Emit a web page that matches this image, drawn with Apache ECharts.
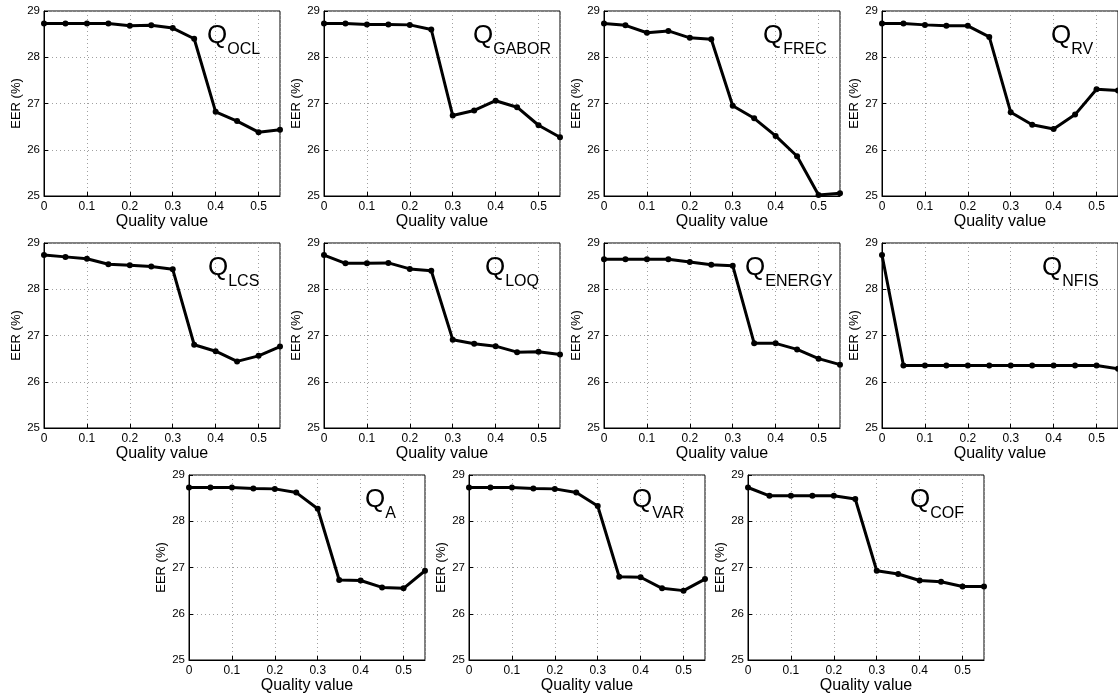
<!DOCTYPE html>
<html>
<head>
<meta charset="utf-8">
<script src="https://cdn.jsdelivr.net/npm/echarts@6/dist/echarts.min.js"></script>
<style>
html,body{margin:0;padding:0;background:#fff;}
#chart{width:1118px;height:697px;}
</style>
</head>
<body>
<div id="chart"></div>
<script>
// Quality values (x)
const qualityValues = [0, 0.05, 0.1, 0.15, 0.2, 0.25, 0.3, 0.35, 0.4, 0.45, 0.5, 0.55];
const xTickLabels = ['0', '0.1', '0.2', '0.3', '0.4', '0.5'];
const yTickLabels = ['25', '26', '27', '28', '29'];

// EER (%) per quality measure
const eerOCL    = [28.73, 28.73, 28.73, 28.73, 28.68, 28.69, 28.63, 28.40, 26.82, 26.62, 26.38, 26.43];
const eerGABOR  = [28.73, 28.73, 28.71, 28.71, 28.70, 28.60, 26.74, 26.85, 27.06, 26.92, 26.53, 26.27];
const eerFREC   = [28.73, 28.69, 28.53, 28.57, 28.42, 28.39, 26.95, 26.68, 26.30, 25.86, 25.02, 25.06];
const eerRV     = [28.73, 28.73, 28.70, 28.68, 28.68, 28.44, 26.81, 26.54, 26.45, 26.76, 27.31, 27.28];
const eerLCS    = [28.74, 28.70, 28.66, 28.54, 28.52, 28.49, 28.43, 26.80, 26.66, 26.44, 26.56, 26.76];
const eerLOQ    = [28.74, 28.56, 28.56, 28.57, 28.44, 28.40, 26.91, 26.82, 26.77, 26.64, 26.65, 26.59];
const eerENERGY = [28.65, 28.65, 28.65, 28.65, 28.59, 28.53, 28.51, 26.83, 26.83, 26.70, 26.50, 26.37];
const eerNFIS   = [28.74, 26.35, 26.35, 26.35, 26.35, 26.35, 26.35, 26.35, 26.35, 26.35, 26.35, 26.28];
const eerA      = [28.73, 28.73, 28.73, 28.71, 28.70, 28.62, 28.27, 26.73, 26.72, 26.57, 26.55, 26.93];
const eerVAR    = [28.73, 28.73, 28.73, 28.71, 28.70, 28.62, 28.33, 26.80, 26.79, 26.55, 26.50, 26.75];
const eerCOF    = [28.73, 28.55, 28.55, 28.55, 28.55, 28.48, 26.93, 26.86, 26.72, 26.69, 26.59, 26.59];

const measureNames = ['OCL', 'GABOR', 'FREC', 'RV', 'LCS', 'LOQ', 'ENERGY', 'NFIS', 'A', 'VAR', 'COF'];
const measureData = [eerOCL, eerGABOR, eerFREC, eerRV, eerLCS, eerLOQ, eerENERGY, eerNFIS, eerA, eerVAR, eerCOF];

// Layout (pixels): plot-area boxes and label offsets
const plotBoxes = [
  [44, 11], [324, 11], [604, 11], [882, 11],
  [44, 243], [324, 243], [604, 243], [882, 243],
  [189, 475], [469, 475], [748, 475]
];
const plotW = 236, plotH = 185;
const titleOffsetX = [163, 149, 159, 169, 164, 161, 141, 160, 176, 163, 162];
const titleOffsetY = 12;

const FONT = '"Liberation Sans", Arial, Helvetica, sans-serif';

const grids = [], xAxes = [], yAxes = [], series = [], titles = [];
plotBoxes.forEach((b, i) => {
  grids.push({
    left: b[0], top: b[1], width: plotW, height: plotH,
    show: true, borderColor: '#000', borderWidth: 1, backgroundColor: '#fff',
    containLabel: false
  });
  xAxes.push({
    type: 'value', gridIndex: i, min: 0, max: 0.55, interval: 0.1,
    name: 'Quality value', nameLocation: 'middle', nameGap: 14,
    nameTextStyle: { fontFamily: FONT, fontSize: 16, color: '#000' },
    axisLine: { show: true, onZero: false, lineStyle: { color: '#000', width: 1 } },
    axisTick: { show: true, inside: true, length: 4, lineStyle: { color: '#000' } },
    axisLabel: {
      fontFamily: FONT, fontSize: 12, color: '#000', margin: 5, showMaxLabel: false,
      formatter: v => { const k = Math.round(v * 10); return (k >= 0 && k < xTickLabels.length && Math.abs(v * 10 - k) < 1e-6) ? xTickLabels[k] : ''; }
    },
    splitLine: { show: true, lineStyle: { color: '#a0a0a0', type: [1, 3], width: 1 } }
  });
  yAxes.push({
    type: 'value', gridIndex: i, min: 25, max: 29, interval: 1,
    name: 'EER (%)', nameLocation: 'middle', nameGap: 21, nameRotate: 90,
    nameTextStyle: { fontFamily: FONT, fontSize: 13, color: '#000' },
    axisLine: { show: true, onZero: false, lineStyle: { color: '#000', width: 1 } },
    axisTick: { show: true, inside: true, length: 4, lineStyle: { color: '#000' } },
    axisLabel: {
      fontFamily: FONT, fontSize: 11.5, color: '#000', margin: 4,
      formatter: v => yTickLabels[Math.round(v - 25)] || ''
    },
    splitLine: { show: true, lineStyle: { color: '#a0a0a0', type: [1, 3], width: 1 } }
  });
  series.push({
    type: 'line', xAxisIndex: i, yAxisIndex: i,
    data: qualityValues.map((q, j) => [q, measureData[i][j]]),
    lineStyle: { color: '#000', width: 3 },
    itemStyle: { color: '#000' },
    symbol: 'circle', symbolSize: 6, showSymbol: true,
    animation: false, clip: false
  });
  titles.push({
    text: '{q|Q}{s|' + measureNames[i] + '}',
    left: b[0] + titleOffsetX[i], top: b[1] + titleOffsetY, padding: 0,
    textStyle: {
      fontWeight: 'normal',
      rich: {
        q: { fontFamily: FONT, fontSize: 26, fontWeight: 'normal', color: '#000', verticalAlign: 'top' },
        s: { fontFamily: FONT, fontSize: 16, fontWeight: 'normal', color: '#000', verticalAlign: 'top', padding: [19, 0, 0, 0] }
      }
    }
  });
});

const chart = echarts.init(document.getElementById('chart'), null, { renderer: 'canvas' });
chart.setOption({
  animation: false,
  backgroundColor: '#fff',
  title: titles,
  grid: grids,
  xAxis: xAxes,
  yAxis: yAxes,
  series: series
});
</script>
</body>
</html>
